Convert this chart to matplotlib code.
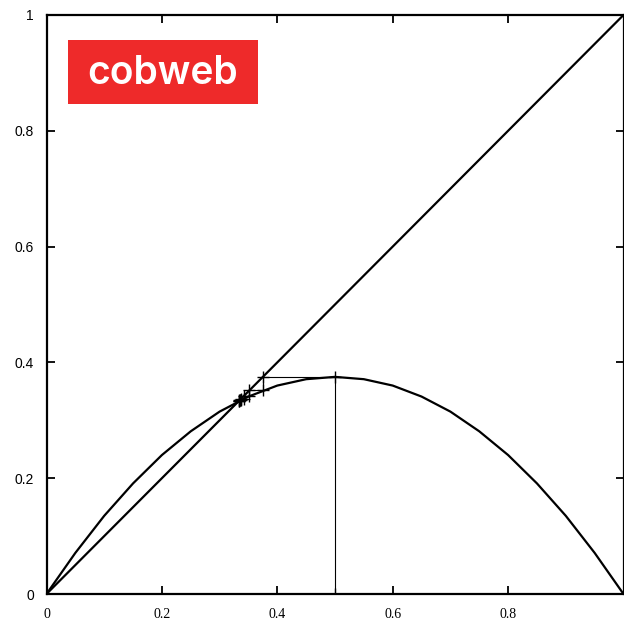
import matplotlib
matplotlib.use("Agg")
import matplotlib.pyplot as plt
from matplotlib.patches import Rectangle

# Curve f(x)
curve_x = [0.0, 0.05, 0.1, 0.15, 0.2, 0.25, 0.3, 0.35, 0.4, 0.45, 0.5,
           0.55, 0.6, 0.65, 0.7, 0.75, 0.8, 0.85, 0.9, 0.95, 1.0]
curve_y = [0.0, 0.071, 0.135, 0.191, 0.24, 0.281, 0.315, 0.341, 0.36, 0.371, 0.375,
           0.371, 0.36, 0.341, 0.315, 0.281, 0.24, 0.191, 0.135, 0.071, 0.0]

# Diagonal y = x
diag_x = [0.0, 1.0]
diag_y = [0.0, 1.0]

# Cobweb path vertices
web_x = [0.5, 0.5, 0.375, 0.375, 0.3516, 0.3516, 0.3419, 0.3419, 0.3375, 0.3375,
         0.3354, 0.3354, 0.3344, 0.3344, 0.3339]
web_y = [0.0, 0.375, 0.375, 0.3516, 0.3516, 0.3419, 0.3419, 0.3375, 0.3375, 0.3354,
         0.3354, 0.3344, 0.3344, 0.3339, 0.3339]

xticks = [0.0, 0.2, 0.4, 0.6, 0.8]
xtick_labels = ["0", "0.2", "0.4", "0.6", "0.8"]
yticks = [0.0, 0.2, 0.4, 0.6, 0.8, 1.0]
ytick_labels = ["0", "0.2", "0.4", "0.6", "0.8", "1"]
title_text = "cobweb"

W, H = 624, 620
fig = plt.figure(figsize=(W / 100, H / 100), dpi=100)
ax = fig.add_axes([46.5 / W, (H - 594) / H, 577 / W, 579 / H])

ax.plot(diag_x, diag_y, color="black", lw=1.6)
ax.plot(curve_x, curve_y, color="black", lw=1.6)
ax.plot(web_x, web_y, color="black", lw=0.8, marker="+", ms=8, mew=1.0)

ax.set_xlim(0, 1)
ax.set_ylim(0, 1)
for s in ax.spines.values():
    s.set_linewidth(1.6)
    s.set_color("black")

ax.set_xticks(xticks)
ax.set_xticklabels(xtick_labels, family="Liberation Serif", fontsize=10)
ax.set_yticks(yticks)
ax.set_yticklabels(ytick_labels, family="Liberation Sans", fontsize=10)
ax.tick_params(axis="both", direction="in", length=5.5, width=1.3,
               top=True, right=True, colors="black")
ax.tick_params(axis="x", pad=10)
ax.tick_params(axis="y", pad=9)

# Red title box
bx0, bx1, by0, by1 = 68, 258, 40, 104
fig.patches.append(Rectangle((bx0 / W, (H - by1) / H), (bx1 - bx0) / W, (by1 - by0) / H,
                             transform=fig.transFigure, facecolor="#EE2A2A",
                             edgecolor="none", zorder=5))
fig.text((bx0 + bx1) / 2 / W, (H - (by0 + by1) / 2 - 1) / H, title_text, color="white",
         family="Inter", fontweight="semibold", fontsize=28,
         ha="center", va="center", zorder=6)

fig.savefig("out.png", dpi=100)
